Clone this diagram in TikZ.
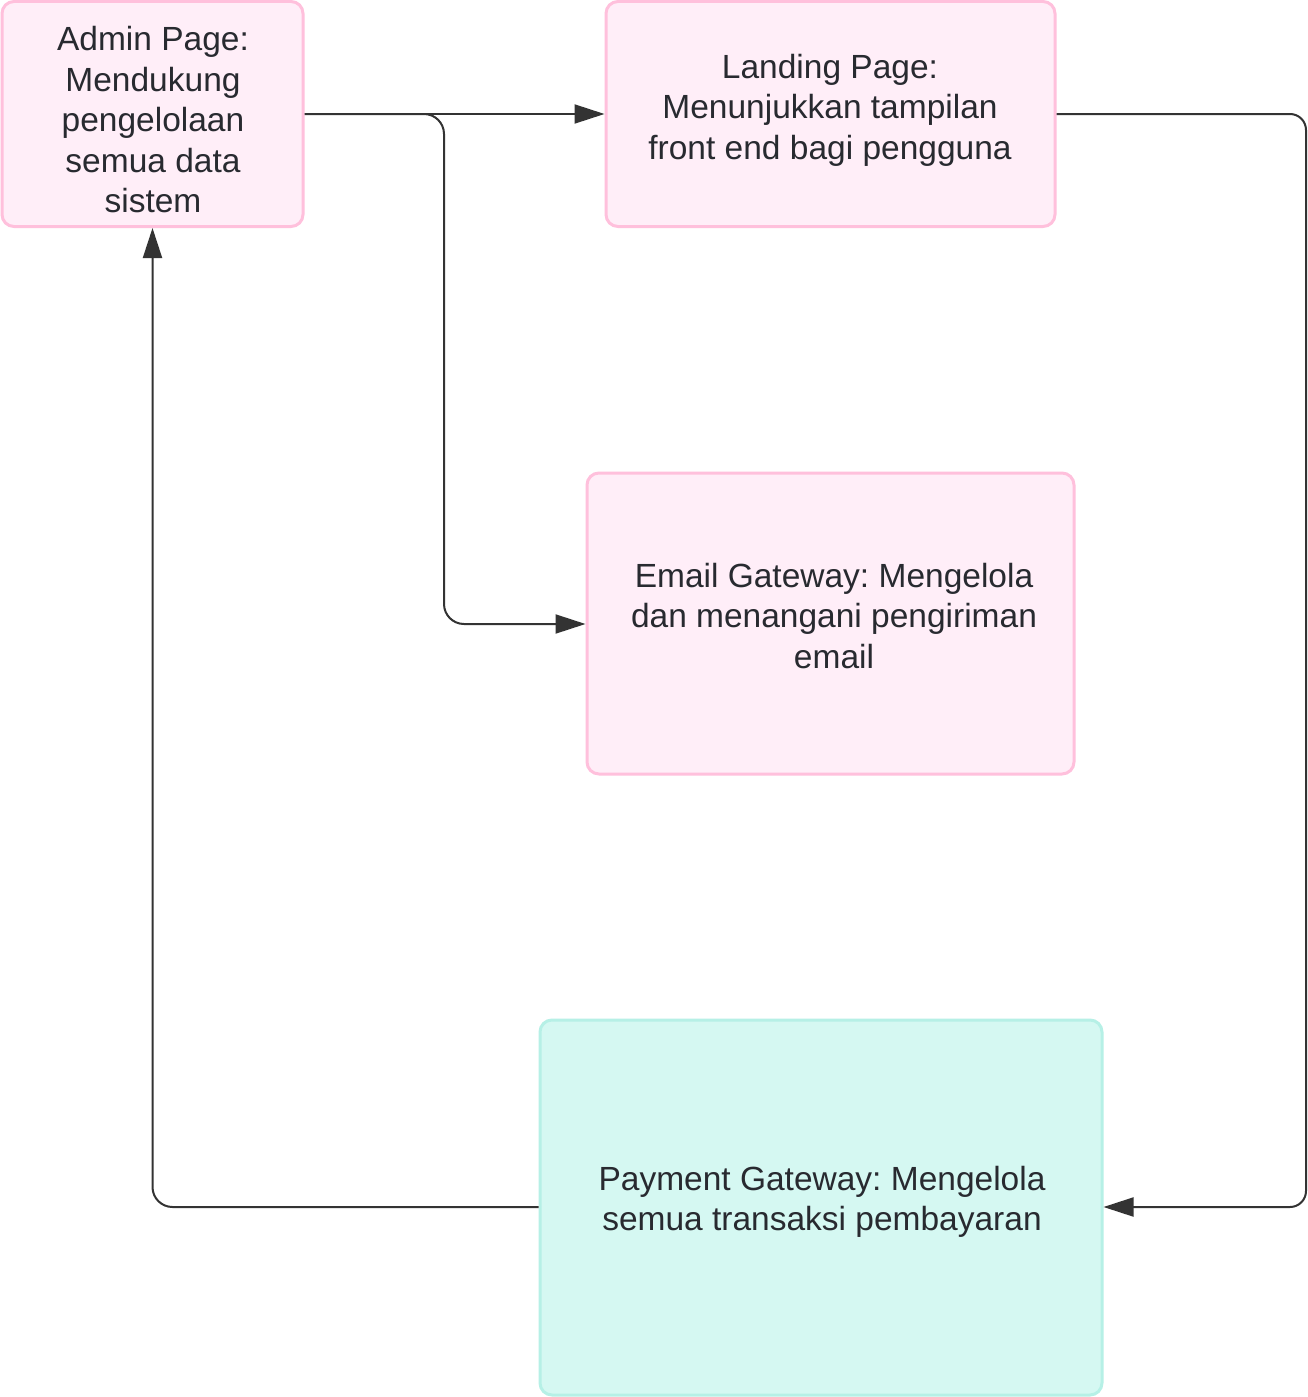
\documentclass[tikz,border=0pt]{standalone}
\usepackage{fontspec}
\setmainfont{Liberation Sans}
\usetikzlibrary{arrows.meta}
\definecolor{pinkfill}{HTML}{FFEEF8}
\definecolor{pinkline}{HTML}{FFC0DC}
\definecolor{tealfill}{HTML}{D5F8F2}
\definecolor{tealline}{HTML}{B6F0E6}
\definecolor{conncol}{HTML}{333333}
\definecolor{textcol}{HTML}{282A30}
\begin{document}
\frenchspacing
\begin{tikzpicture}[x=1pt,y=-1pt,
  box/.style={rectangle, rounded corners=12pt, line width=3pt, inner sep=0pt},
  pinkbox/.style={box, draw=pinkline, fill=pinkfill},
  tealbox/.style={box, draw=tealline, fill=tealfill},
  boxtext/.style={text=textcol, font=\fontsize{33.5}{40.5}\selectfont, align=center, inner sep=0pt},
  conn/.style={draw=conncol, line width=2pt, rounded corners=20pt,
    -{Triangle[length=30pt,width=19pt]}}
]
\useasboundingbox (0,0) rectangle (1307,1397);
\fill[white] (0,0) rectangle (1307,1397);

\node[pinkbox, minimum width=301pt, minimum height=225pt] (admin) at (152.5,114) {};
\node[boxtext] (admintext) at (153,120)
  {Admin Page:\\Mendukung\\pengelolaan\\semua data\\sistem};

\node[pinkbox, minimum width=449pt, minimum height=225pt] (landing) at (830.5,114) {};
\node[boxtext] (landingtext) at (830,110)
  {Landing Page:\\Menunjukkan tampilan\\front end bagi pengguna};

\node[pinkbox, minimum width=487pt, minimum height=301pt] (email) at (830.5,623.5) {};
\node[boxtext] (emailtext) at (834,616)
  {Email Gateway: Mengelola\\dan menangani pengiriman\\email};

\node[tealbox, minimum width=562pt, minimum height=375pt] (payment) at (821,1207.5) {};
\node[boxtext] (paymenttext) at (822,1202)
  {Payment Gateway: Mengelola\\semua transaksi pembayaran};

\coordinate (split) at (444,114);
\coordinate (emailturn) at (444,624);
\coordinate (rtop) at (1306,114);
\coordinate (rbot) at (1306,1207);
\coordinate (lbot) at (152.5,1207);

\draw[conn] (admin.east) -- (landing.west);
\draw[conn] (admin.east) -- (split) -- (emailturn) -- (email.west |- emailturn);
\draw[conn, rounded corners=16pt] (landing.east) -- (rtop) -- (rbot) -- (payment.east |- rbot);
\draw[conn] (payment.west |- lbot) -- (lbot) -- (admin.south);
\end{tikzpicture}
\end{document}
